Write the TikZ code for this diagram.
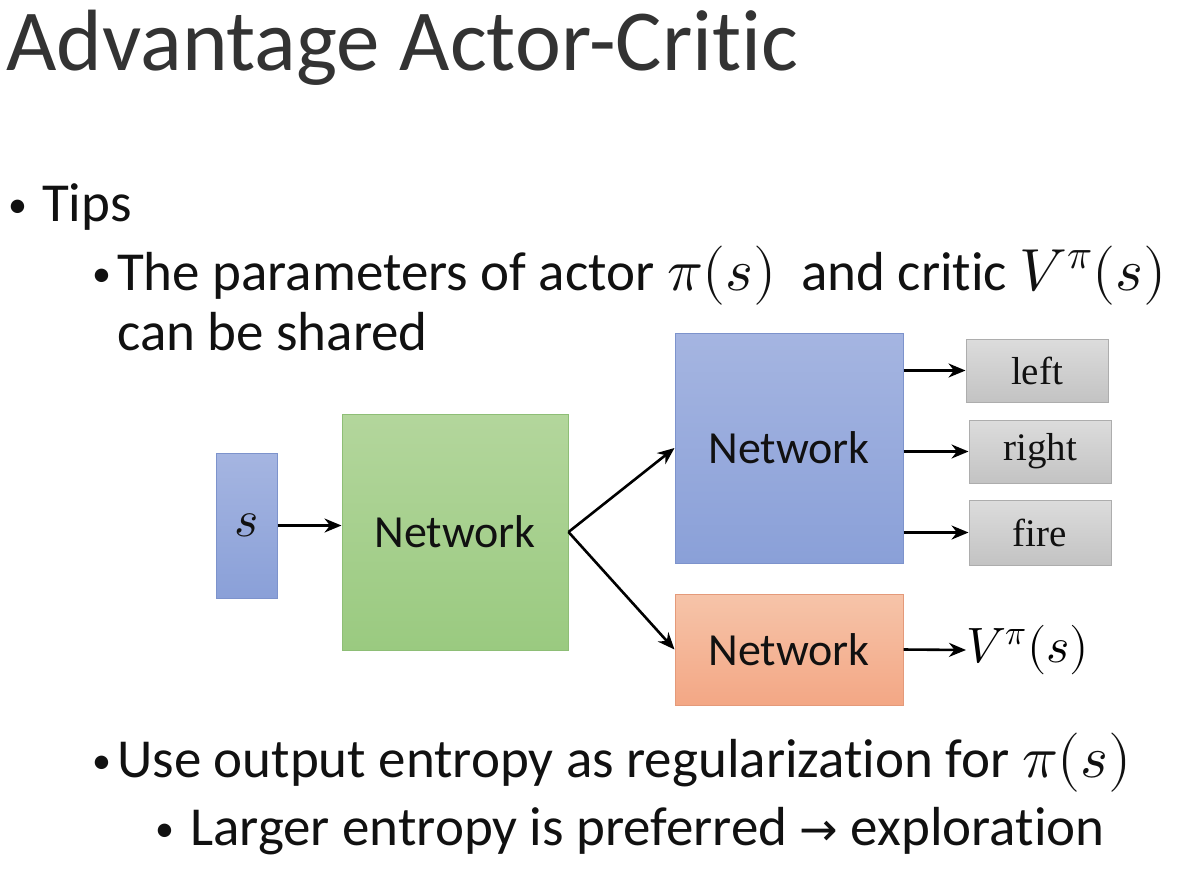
\documentclass[tikz,border=0pt]{standalone}
\usepackage{fontspec}
\usepackage{unicode-math}
\setmainfont{Carlito}[Ligatures=NoCommon]
\setmathfont{Latin Modern Math}[Scale=1.08]
\newfontfamily\tnr{Liberation Serif}
\newfontfamily\djv{DejaVu Sans}
\usetikzlibrary{arrows.meta}
\definecolor{sblueT}{HTML}{A5B5E1}
\definecolor{sblueB}{HTML}{8AA0D8}
\definecolor{sblueD}{HTML}{7D93CC}
\definecolor{grnT}{HTML}{B3D69C}
\definecolor{grnB}{HTML}{9ACA80}
\definecolor{grnD}{HTML}{8EBE76}
\definecolor{orT}{HTML}{F6C4A9}
\definecolor{orB}{HTML}{F3A785}
\definecolor{orD}{HTML}{E49A7A}
\definecolor{gyT}{HTML}{DCDCDC}
\definecolor{gyB}{HTML}{C3C3C3}
\definecolor{gyD}{HTML}{ADADAD}
\definecolor{txt}{HTML}{111111}
\tikzset{
  box/.style={draw, line width=1pt, inner sep=0pt, font=\fontsize{46}{50}\selectfont, text=txt},
  bluebox/.style={box, top color=sblueT, bottom color=sblueB, draw=sblueD},
  greenbox/.style={box, top color=grnT, bottom color=grnB, draw=grnD},
  orangebox/.style={box, top color=orT, bottom color=orB, draw=orD},
  graybox/.style={box, top color=gyT, bottom color=gyB, draw=gyD, font=\tnr\fontsize{39}{42}\selectfont},
  arr/.style={-{Stealth[length=17pt,width=14pt]}, line width=2.6pt, black},
  body/.style={anchor=base west, inner sep=0pt, font=\fontsize{55}{60}\selectfont, text=txt},
  dot/.style={anchor=base west, inner sep=0pt, font=\fontsize{38}{40}\selectfont, text=txt},
}
\begin{document}
\begin{tikzpicture}[x=1pt,y=-1pt]
\useasboundingbox (0,0) rectangle (1177,868);
\fill[white] (0,0) rectangle (1177,868);
% title
\node[body, font=\fontsize{87}{92}\selectfont, text=black!80] (title) at (6,70) {Advantage Actor-Critic};
% bullets
\node[dot] (b1) at (8,217) {•};
\node[body] (tips) at (42,221) {Tips};
\node[dot] (b2) at (92,286) {•};
\node[body] (l1) at (117,290) {The parameters of actor $\pi(s)$\ \ and critic $V^{\pi}(s)$};
\node[body] (l2) at (117,350) {can be shared};
\node[dot] (b3) at (92,773) {•};
\node[body] (l3) at (117,777) {Use output entropy as regularization for $\pi(s)$};
\node[dot] (b4) at (155,841) {•};
\node[body] (l4) at (190,845) {Larger entropy is preferred {\djv\fontsize{46}{50}\selectfont→} exploration};
% diagram
\node[bluebox, minimum width=61pt, minimum height=145pt, font=\fontsize{48}{52}\selectfont] (s) at (246.5,525.5) {$s$};
\node[greenbox, minimum width=226pt, minimum height=236pt] (net) at (455,532) {Network};
\node[bluebox, minimum width=228pt, minimum height=230pt] (actor) at (789,448) {Network};
\node[orangebox, minimum width=228pt, minimum height=111pt] (critic) at (789,649.5) {Network};
\node[graybox, minimum width=142pt, minimum height=63pt] (left) at (1037,370.5) {left};
\node[graybox, minimum width=142pt, minimum height=63pt] (right) at (1040,451.5) {right};
\node[graybox, minimum width=142pt, minimum height=65pt] (fire) at (1040,532.5) {fire};
\node[anchor=west, inner sep=0pt, font=\fontsize{46}{50}\selectfont] (v) at (966,650) {$V^{\pi}(s)$};
\draw[arr] (s.east) -- (s.east -| net.west);
\draw[arr] (net.east) -- (actor.west);
\draw[arr] (net.east) -- (critic.west);
\draw[arr] (actor.east |- left) -- (left.west);
\draw[arr] (actor.east |- right) -- (right.west);
\draw[arr] (actor.east |- fire) -- (fire.west);
\draw[arr] (critic.east) -- (v.west);
\end{tikzpicture}
\end{document}
